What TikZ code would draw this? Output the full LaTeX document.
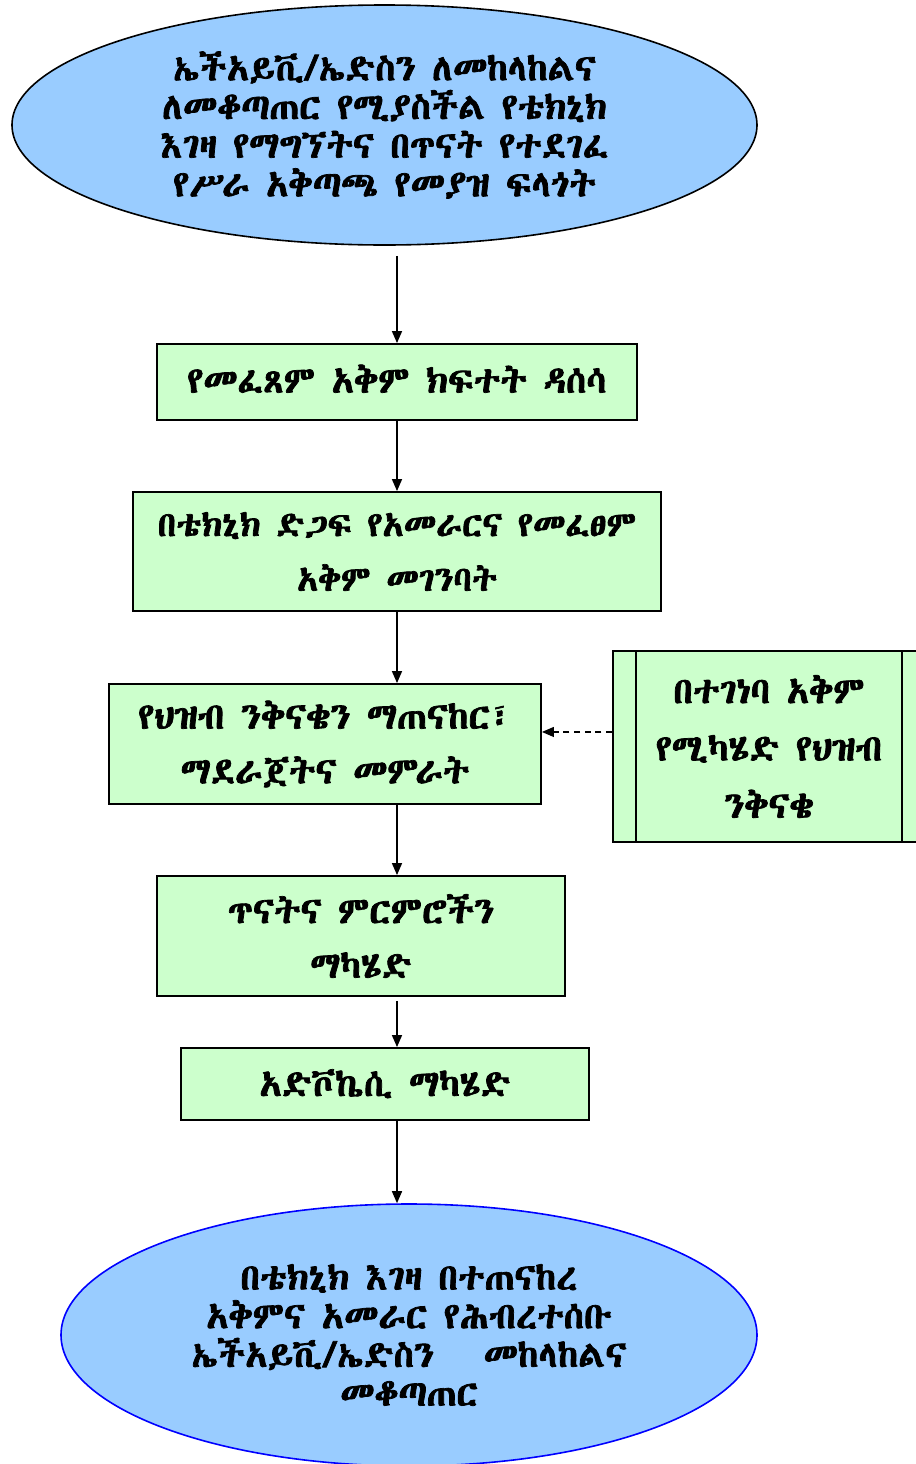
\documentclass[tikz,border=0pt]{standalone}
\usepackage{fontspec}
\usetikzlibrary{shapes.geometric,arrows.meta}
\IfFontExistsTF{Abyssinica SIL}{\newfontfamily\eth{Abyssinica SIL}[FakeBold=2]}{%
 \IfFontExistsTF{FreeSerif.otf}{\newfontfamily\eth{FreeSerif.otf}[FakeBold=2]}{%
  \newfontfamily\eth{DejaVu Sans}[FakeBold=1]}}
\definecolor{ellfill}{HTML}{99CCFF}
\definecolor{boxfill}{HTML}{CCFFCC}
\definecolor{ellblue}{HTML}{0000FF}
\begin{document}
\begin{tikzpicture}[x=0.75pt,y=-0.75pt,
 every node/.style={font=\eth\fontsize{27.5}{29}\selectfont},
 ell/.style={ellipse, draw, fill=ellfill, inner sep=0pt, align=center, line width=1.2pt},
 proc/.style={rectangle, draw, fill=boxfill, line width=1.4pt, inner sep=0pt, align=center},
 arr/.style={-{Triangle[length=9pt,width=7.5pt]}, line width=1.1pt}
]
\clip (0,0) rectangle (916,1464);
\node[ell, minimum width=558.75pt, minimum height=180pt] (top) at (384.5,125)
 {ኤችአይቪ/ኤድስን ለመከላከልና\\ለመቆጣጠር የሚያስችል የቴክኒክ\\እገዛ የማግኘትና በጥናት የተደገፈ\\የሥራ አቅጣጫ የመያዝ ፍላጎት};
\node[proc, minimum width=360pt, minimum height=57pt] (b1) at (397,382) {\raisebox{5pt}{የመፈጸም አቅም ክፍተት ዳሰሳ}};
\node[proc, minimum width=396pt, minimum height=89.25pt, font=\eth\fontsize{26}{29}\selectfont] (b2) at (397,551.5) {በቴክኒክ ድጋፍ የአመራርና የመፈፀም\\[12pt]አቅም መገንባት};
\node[proc, minimum width=324pt, minimum height=90pt] (b3) at (325,744) {የህዝብ ንቅናቄን ማጠናከር፣\\[12pt]ማደራጀትና መምራት};
\node[proc, minimum width=234pt, minimum height=143.25pt] (side) at (769,746.5) {በተገነባ አቅም\\[14pt]የሚካሄድ የህዝብ\\[14pt]ንቅናቄ};
\draw[line width=1.4pt] ([xshift=18pt]side.north west) -- ([xshift=18pt]side.south west);
\draw[line width=1.4pt] ([xshift=-18pt]side.north east) -- ([xshift=-18pt]side.south east);
\node[proc, minimum width=306pt, minimum height=90pt] (b4) at (361,936) {ጥናትና ምርምሮችን\\[12pt]ማካሄድ};
\node[proc, minimum width=306pt, minimum height=54pt] (b5) at (385,1084) {\raisebox{2pt}{አድቮኬሲ ማካሄድ}};
\node[ell, draw=ellblue, minimum width=522pt, minimum height=196.5pt] (bot) at (409,1335)
 {በቴክኒክ እገዛ በተጠናከረ\\አቅምና አመራር የሕብረተሰቡ\\ኤችአይቪ/ኤድስን \ \ መከላከልና\\መቆጣጠር};
\coordinate (ax) at (397,0);
\draw[arr, shorten <=7.5pt] (top.south -| ax) -- (b1.north -| ax);
\draw[arr] (b1.south -| ax) -- (b2.north -| ax);
\draw[arr] (b2.south -| ax) -- (b3.north -| ax);
\draw[arr] (b3.south -| ax) -- (b4.north -| ax);
\draw[arr, shorten <=3pt] (b4.south -| ax) -- (b5.north -| ax);
\draw[arr] (b5.south -| ax) -- (bot.north -| ax);
\draw[arr, line width=0.9pt, dash pattern=on 4.5pt off 3.5pt] ([yshift=10.9pt]side.west) -- ([yshift=10.9pt]side.west -| b3.east);
\end{tikzpicture}
\end{document}
